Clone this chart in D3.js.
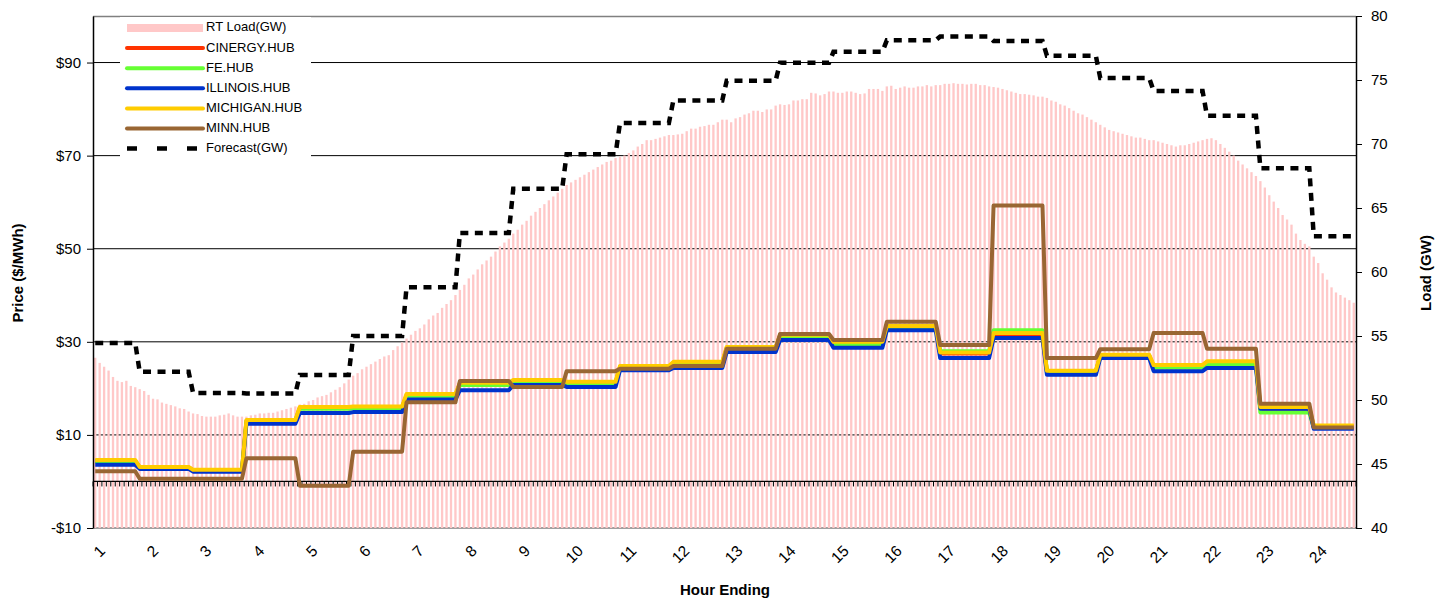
<!DOCTYPE html>
<html><head><meta charset="utf-8">
<script src="https://cdn.jsdelivr.net/npm/d3@7"></script>
<style>body{margin:0;background:#fff} text{font-family:Arial,"Liberation Sans",sans-serif}</style>
</head><body><svg id="c" width="1447" height="600"></svg>
<script>
// ---- data ----
const hours = d3.range(1, 25);
const hourPoints = [10,12,12,12,12,12,12,12,12,12,12,12,12,12,12,12,12,12,12,12,12,12,12,10];
const cinergy = [4.4,3.0,2.4,13.0,15.8,15.9,18.5,21.0,21.5,21.2,24.6,25.5,28.7,31.3,29.8,33.2,27.5,31.5,23.6,27.0,24.8,25.5,15.5,11.8];
const fe      = [4.3,2.9,2.4,12.9,15.6,15.7,18.2,20.7,21.2,21.0,24.4,25.2,28.5,31.0,29.5,33.0,28.0,32.5,23.4,26.9,24.5,25.2,14.8,11.6];
const illinois= [3.6,2.7,2.1,12.4,14.7,14.9,17.6,19.6,20.7,20.3,23.9,24.4,27.8,30.4,28.7,32.5,26.5,30.8,22.9,26.5,23.7,24.4,15.6,11.3];
const michigan= [4.6,3.1,2.5,13.2,16.0,16.1,18.8,21.2,21.8,21.4,24.8,25.7,28.9,31.5,30.0,33.4,27.7,31.9,23.8,27.2,25.0,25.8,16.0,12.0];
const minn    = [2.2,0.6,0.6,5.0,-0.9,6.4,17.0,21.6,20.3,23.7,24.2,24.8,28.5,31.7,30.4,34.3,29.3,59.3,26.5,28.4,31.9,28.5,16.7,11.6];
const forecast= [54.45,52.2,50.55,50.5,51.95,55.0,58.8,63.05,66.5,69.2,71.65,73.4,74.95,76.35,77.2,78.1,78.4,78.05,76.9,75.15,74.15,72.2,68.1,62.8];
const rtLoad = [
 53.3,52.9,52.6,52.3,51.8,51.5,51.4,51.5,51.1,51.0,
 50.85,50.7,50.4,50.1,50.05,49.8,49.7,49.6,49.5,49.35,49.3,49.1,
 48.95,48.9,48.75,48.7,48.7,48.7,48.8,48.85,48.95,48.8,48.7,48.7,
 48.7,48.8,48.85,48.95,48.95,49.0,49.0,49.1,49.2,49.3,49.4,49.5,
 49.65,49.7,49.9,50.0,50.2,50.3,50.4,50.6,50.8,51.0,51.3,51.6,
 51.9,52.1,52.4,52.6,52.8,53.0,53.2,53.4,53.5,53.9,54.2,54.5,
 54.8,55.1,55.4,55.6,55.9,56.3,56.6,56.8,57.2,57.5,57.8,58.2,
 58.6,59.0,59.5,59.8,60.2,60.6,60.9,61.2,61.6,62.0,62.3,62.6,
 63.0,63.3,63.7,64.0,64.4,64.7,65.0,65.3,65.6,65.9,66.2,66.5,
 66.8,67.0,67.2,67.4,67.6,67.8,68.0,68.2,68.4,68.6,68.7,68.9,
 69.0,69.1,69.3,69.5,69.8,70.0,70.3,70.3,70.4,70.5,70.6,70.7,
 70.7,70.75,70.8,71.0,71.2,71.2,71.35,71.4,71.5,71.5,71.7,71.9,
 71.9,71.7,72.0,72.1,72.3,72.4,72.6,72.6,72.5,72.7,72.7,73.0,
 73.1,73.05,73.1,73.4,73.4,73.5,73.5,74.0,73.95,73.8,73.9,74.1,
 74.1,74.0,74.0,74.1,74.1,74.0,73.9,73.95,74.3,74.3,74.3,74.15,
 74.5,74.55,74.3,74.4,74.5,74.4,74.4,74.5,74.5,74.6,74.5,74.6,
 74.6,74.7,74.7,74.75,74.7,74.7,74.65,74.7,74.7,74.6,74.6,74.5,
 74.45,74.4,74.3,74.2,74.1,74.0,73.9,73.9,73.85,73.8,73.7,73.7,
 73.6,73.4,73.3,73.1,73.0,72.8,72.6,72.4,72.3,72.1,71.9,71.7,
 71.5,71.3,71.1,71.0,70.9,70.8,70.7,70.6,70.5,70.5,70.4,70.3,
 70.3,70.2,70.1,70.0,69.9,69.8,69.9,69.9,70.0,70.1,70.2,70.3,
 70.4,70.45,70.3,70.0,69.7,69.4,69.1,68.7,68.4,68.1,67.8,67.5,
 67.1,66.6,66.0,65.5,65.0,64.45,64.1,63.7,63.0,62.5,62.2,62.0,
 61.2,60.7,59.9,59.4,58.8,58.4,58.2,58.0,57.8,57.6
];
const priceTicks = [-10,10,30,50,70,90];
const loadTicks = [40,45,50,55,60,65,70,75,80];
const seriesNames = ["CINERGY.HUB","FE.HUB","ILLINOIS.HUB","MICHIGAN.HUB","MINN.HUB"];
const seriesColors = ["#ff3300","#66ff33","#0033cc","#ffcc00","#996633"];
const seriesData = [cinergy, fe, illinois, michigan, minn];

// expand hourly values to 5-minute points
const hourOfPoint = [];
hourPoints.forEach((c, h) => { for (let k = 0; k < c; k++) hourOfPoint.push(h); });
const expand = arr => hourOfPoint.map(h => arr[h]);

// ---- layout ----
const L = 93, R = 1356, T = 16, B = 528;
const svg = d3.select("#c");
const n = rtLoad.length;
const x = d3.scaleBand().domain(d3.range(n)).range([L, R]).paddingInner(0.48).paddingOuter(0.24);
const step = x.step(), bw = x.bandwidth();
const cx = i => x(i) + bw / 2;
const yP = d3.scaleLinear().domain([-10, 100]).range([B, T]);
const yL = d3.scaleLinear().domain([40, 80]).range([B, T]);

// gridlines (under bars)
svg.append("g").selectAll("line").data(priceTicks.filter(d => d > -10)).join("line")
  .attr("x1", L).attr("x2", R).attr("y1", d => yP(d)).attr("y2", d => yP(d))
  .attr("stroke", "#000").attr("stroke-width", 1);
// plot border top/bottom
svg.append("line").attr("x1", L).attr("x2", R).attr("y1", T + 0.5).attr("y2", T + 0.5).attr("stroke", "#808080").attr("stroke-width", 1.5);
svg.append("line").attr("x1", L).attr("x2", R).attr("y1", B).attr("y2", B).attr("stroke", "#808080").attr("stroke-width", 1.5);

// bars
svg.append("g").selectAll("rect").data(rtLoad).join("rect")
  .attr("x", (d, i) => x(i)).attr("width", bw)
  .attr("y", d => yL(d)).attr("height", d => B - yL(d))
  .attr("fill", "#ffc8c8");

// legend background
svg.append("rect").attr("x", 120).attr("y", 17).attr("width", 191).attr("height", 143).attr("fill", "#fff");

// zero axis with category ticks
const y0 = yP(0);
svg.append("line").attr("x1", L).attr("x2", R).attr("y1", y0).attr("y2", y0).attr("stroke", "#000").attr("stroke-width", 1.2);
svg.append("g").selectAll("line").data(d3.range(n + 1)).join("line")
  .attr("x1", i => L + i * step).attr("x2", i => L + i * step)
  .attr("y1", y0).attr("y2", y0 + 5).attr("stroke", "#000").attr("stroke-width", 1);

// price lines
const lineP = d3.line().x((d, i) => cx(i)).y(d => yP(d));
seriesData.forEach((s, k) => {
  svg.append("path").datum(expand(s)).attr("d", lineP)
    .attr("fill", "none").attr("stroke", seriesColors[k]).attr("stroke-width", 4)
    .attr("stroke-linejoin", "round");
});
// forecast
const lineL = d3.line().x((d, i) => cx(i)).y(d => yL(d));
svg.append("path").datum(expand(forecast)).attr("d", lineL)
  .attr("fill", "none").attr("stroke", "#000").attr("stroke-width", 4.5)
  .attr("stroke-dasharray", "8,6.5");

// axes
const fmt = d => d < 0 ? "-$" + (-d) : "$" + d;
const axL = svg.append("g").attr("transform", `translate(${L},0)`)
  .call(d3.axisLeft(yP).tickValues(priceTicks).tickFormat(fmt).tickSize(6).tickSizeOuter(0).tickPadding(6));
const axR = svg.append("g").attr("transform", `translate(${R},0)`)
  .call(d3.axisRight(yL).tickValues(loadTicks).tickSize(6).tickSizeOuter(0).tickPadding(9));
[axL, axR].forEach(a => {
  a.select(".domain").attr("stroke", "#000").attr("stroke-width", 1.5);
  a.selectAll(".tick line").attr("stroke", "#000");
  a.selectAll("text").attr("font-size", 15).attr("fill", "#000").attr("font-family", "Arial, 'Liberation Sans', sans-serif");
});

// hour labels (every 12th category)
svg.append("g").selectAll("text").data(hours).join("text")
  .attr("transform", (h, k) => `translate(${cx(12 * k) + 8 - k * 0.25},549) rotate(-45)`)
  .attr("text-anchor", "end").attr("dominant-baseline", "middle")
  .attr("font-size", 15.5).text(h => h);

// titles
svg.append("text").attr("transform", "translate(23,273) rotate(-90)").attr("text-anchor", "middle")
  .attr("font-size", 15).attr("font-weight", "bold").text("Price ($/MWh)");
svg.append("text").attr("transform", "translate(1431,273) rotate(-90)").attr("text-anchor", "middle")
  .attr("font-size", 15).attr("font-weight", "bold").text("Load (GW)");
svg.append("text").attr("x", 725).attr("y", 595).attr("text-anchor", "middle")
  .attr("font-size", 15).attr("font-weight", "bold").text("Hour Ending");

// legend
const lg = svg.append("g");
const rows = ["RT Load(GW)"].concat(seriesNames, ["Forecast(GW)"]);
rows.forEach((name, r) => {
  const yy = 28 + r * 20.1;
  if (r === 0) {
    lg.append("rect").attr("x", 127).attr("y", yy - 4).attr("width", 76).attr("height", 8).attr("fill", "#ffc8c8");
  } else if (r === rows.length - 1) {
    lg.append("line").attr("x1", 127).attr("x2", 203).attr("y1", yy).attr("y2", yy)
      .attr("stroke", "#000").attr("stroke-width", 4.5).attr("stroke-dasharray", "10,20");
  } else {
    lg.append("line").attr("x1", 127).attr("x2", 203).attr("y1", yy).attr("y2", yy)
      .attr("stroke", seriesColors[r - 1]).attr("stroke-width", 4).attr("stroke-linecap", "round");
  }
  lg.append("text").attr("x", 206).attr("y", yy).attr("dominant-baseline", "middle")
    .attr("font-size", 13).text(name);
});
</script></body></html>
